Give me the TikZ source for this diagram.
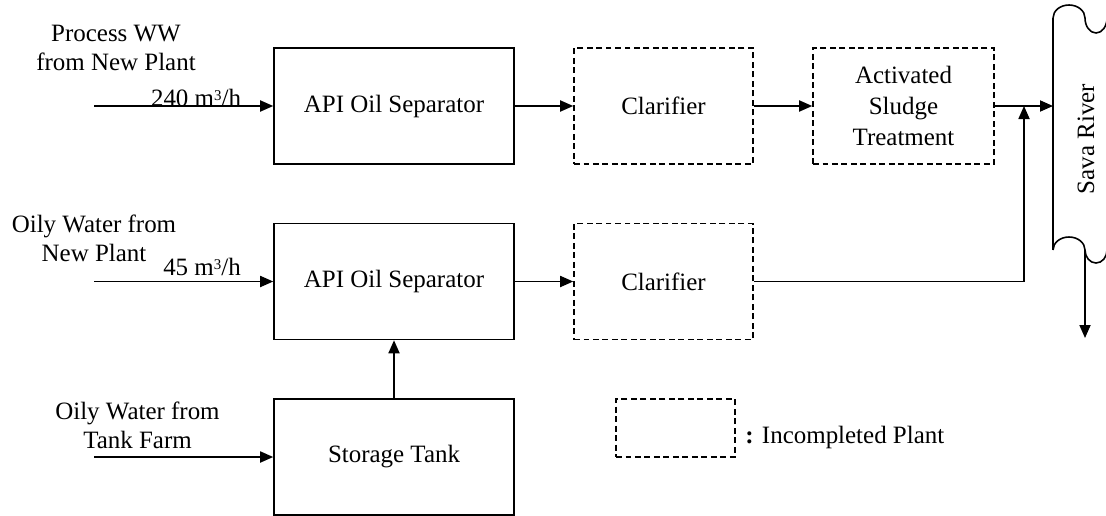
\documentclass[tikz,border=0pt]{standalone}
\usepackage{fontspec}
\setmainfont{Liberation Serif}
\usetikzlibrary{arrows.meta,positioning}

\newcommand{\cubic}{\raisebox{0.45ex}{\fontsize{8.5}{8.5}\selectfont 3}}

\begin{document}
\begin{tikzpicture}[
        font=\fontsize{14.2}{16.5}\selectfont,
        unit/.style={draw, line width=0.9pt, align=center, minimum width=4.8cm, minimum height=2.32cm},
        newunit/.style={draw, line width=0.9pt, dash pattern=on 3.4pt off 2pt, align=center, minimum height=2.32cm},
        flow/.style={-{Triangle[length=7.4pt,width=6.3pt]}, line width=0.9pt},
        lbl/.style={align=center, inner sep=0pt}
    ]
    \useasboundingbox (0,0) rectangle (22.12,-10.3);

    % --------
    % Units
    % --------
    \node[unit] at (7.88, -2.12) (api1) {API Oil Separator};
    \node[newunit, minimum width=3.58cm] at (13.27, -2.12) (clar1) {Clarifier};
    \node[newunit, minimum width=3.62cm] at (18.07, -2.12) (sludge) {Activated\\[1pt]Sludge\\[1pt]Treatment};

    \node[unit] at (7.88, -5.63) (api2) {API Oil Separator};
    \node[newunit, minimum width=3.58cm] at (13.27, -5.63) (clar2) {Clarifier};

    \node[unit] at (7.88, -9.14) (storage) {Storage Tank};

    % legend
    \node[newunit, minimum width=2.38cm, minimum height=1.16cm] at (13.51, -8.56) (legend) {};
    \node[anchor=base west, inner sep=0pt] at (14.9, -8.86) (legendtext) {\textbf{:} Incompleted Plant};

    % --------
    % Inflows
    % --------
    \coordinate (in1) at (1.88, -2.12);
    \coordinate (in2) at (1.88, -5.63);
    \coordinate (in3) at (1.88, -9.14);

    \node[lbl, anchor=south] at (2.32, -1.42) (src1) {Process WW\\from New Plant};
    \node[lbl, anchor=south] at (1.88, -5.24) (src2) {Oily Water from\\New Plant};
    \node[lbl, anchor=south] at (2.75, -8.98) (src3) {Oily Water from\\Tank Farm};

    \node[anchor=base, inner sep=0pt] at (3.92, -2.12) (rate1) {240 m\cubic/h};
    \node[anchor=base, inner sep=0pt] at (4.04, -5.50) (rate2) {45 m\cubic/h};

    % --------
    % River
    % --------
    \coordinate (rivertop) at (21.06, -0.36);
    \coordinate (riverbot) at (21.06, -5.0);
    \coordinate (outlet) at (21.70, -5.0);
    \coordinate (sea) at (21.70, -6.76);
    \coordinate (joint) at (20.48, -2.12);

    \draw[line width=0.9pt] (rivertop)
        arc[start angle=180, end angle=0, x radius=0.32cm, y radius=0.26cm]
        arc[start angle=180, end angle=360, x radius=0.22cm, y radius=0.3cm];
    \draw[line width=0.9pt] (rivertop) -- (riverbot);
    \draw[line width=0.9pt] (riverbot)
        arc[start angle=180, end angle=0, x radius=0.32cm, y radius=0.26cm]
        arc[start angle=180, end angle=360, x radius=0.22cm, y radius=0.26cm];
    \node[rotate=90] at (21.72, -2.78) (river) {Sava River};

    % Draw line
    \draw[flow] (in1) -- (api1);
    \draw[flow] (in2) -- (api2);
    \draw[flow] (in3) -- (storage);
    \draw[flow] (api1) -- (clar1);
    \draw[flow] (clar1) -- (sludge);
    \draw[flow] (sludge) -- (sludge -| rivertop);
    \draw[flow] (api2) -- (clar2);
    \draw[flow] (storage) -- (api2);
    \draw[flow] (clar2) -| (joint);
    \draw[flow] (outlet) -- (sea);
\end{tikzpicture}
\end{document}
